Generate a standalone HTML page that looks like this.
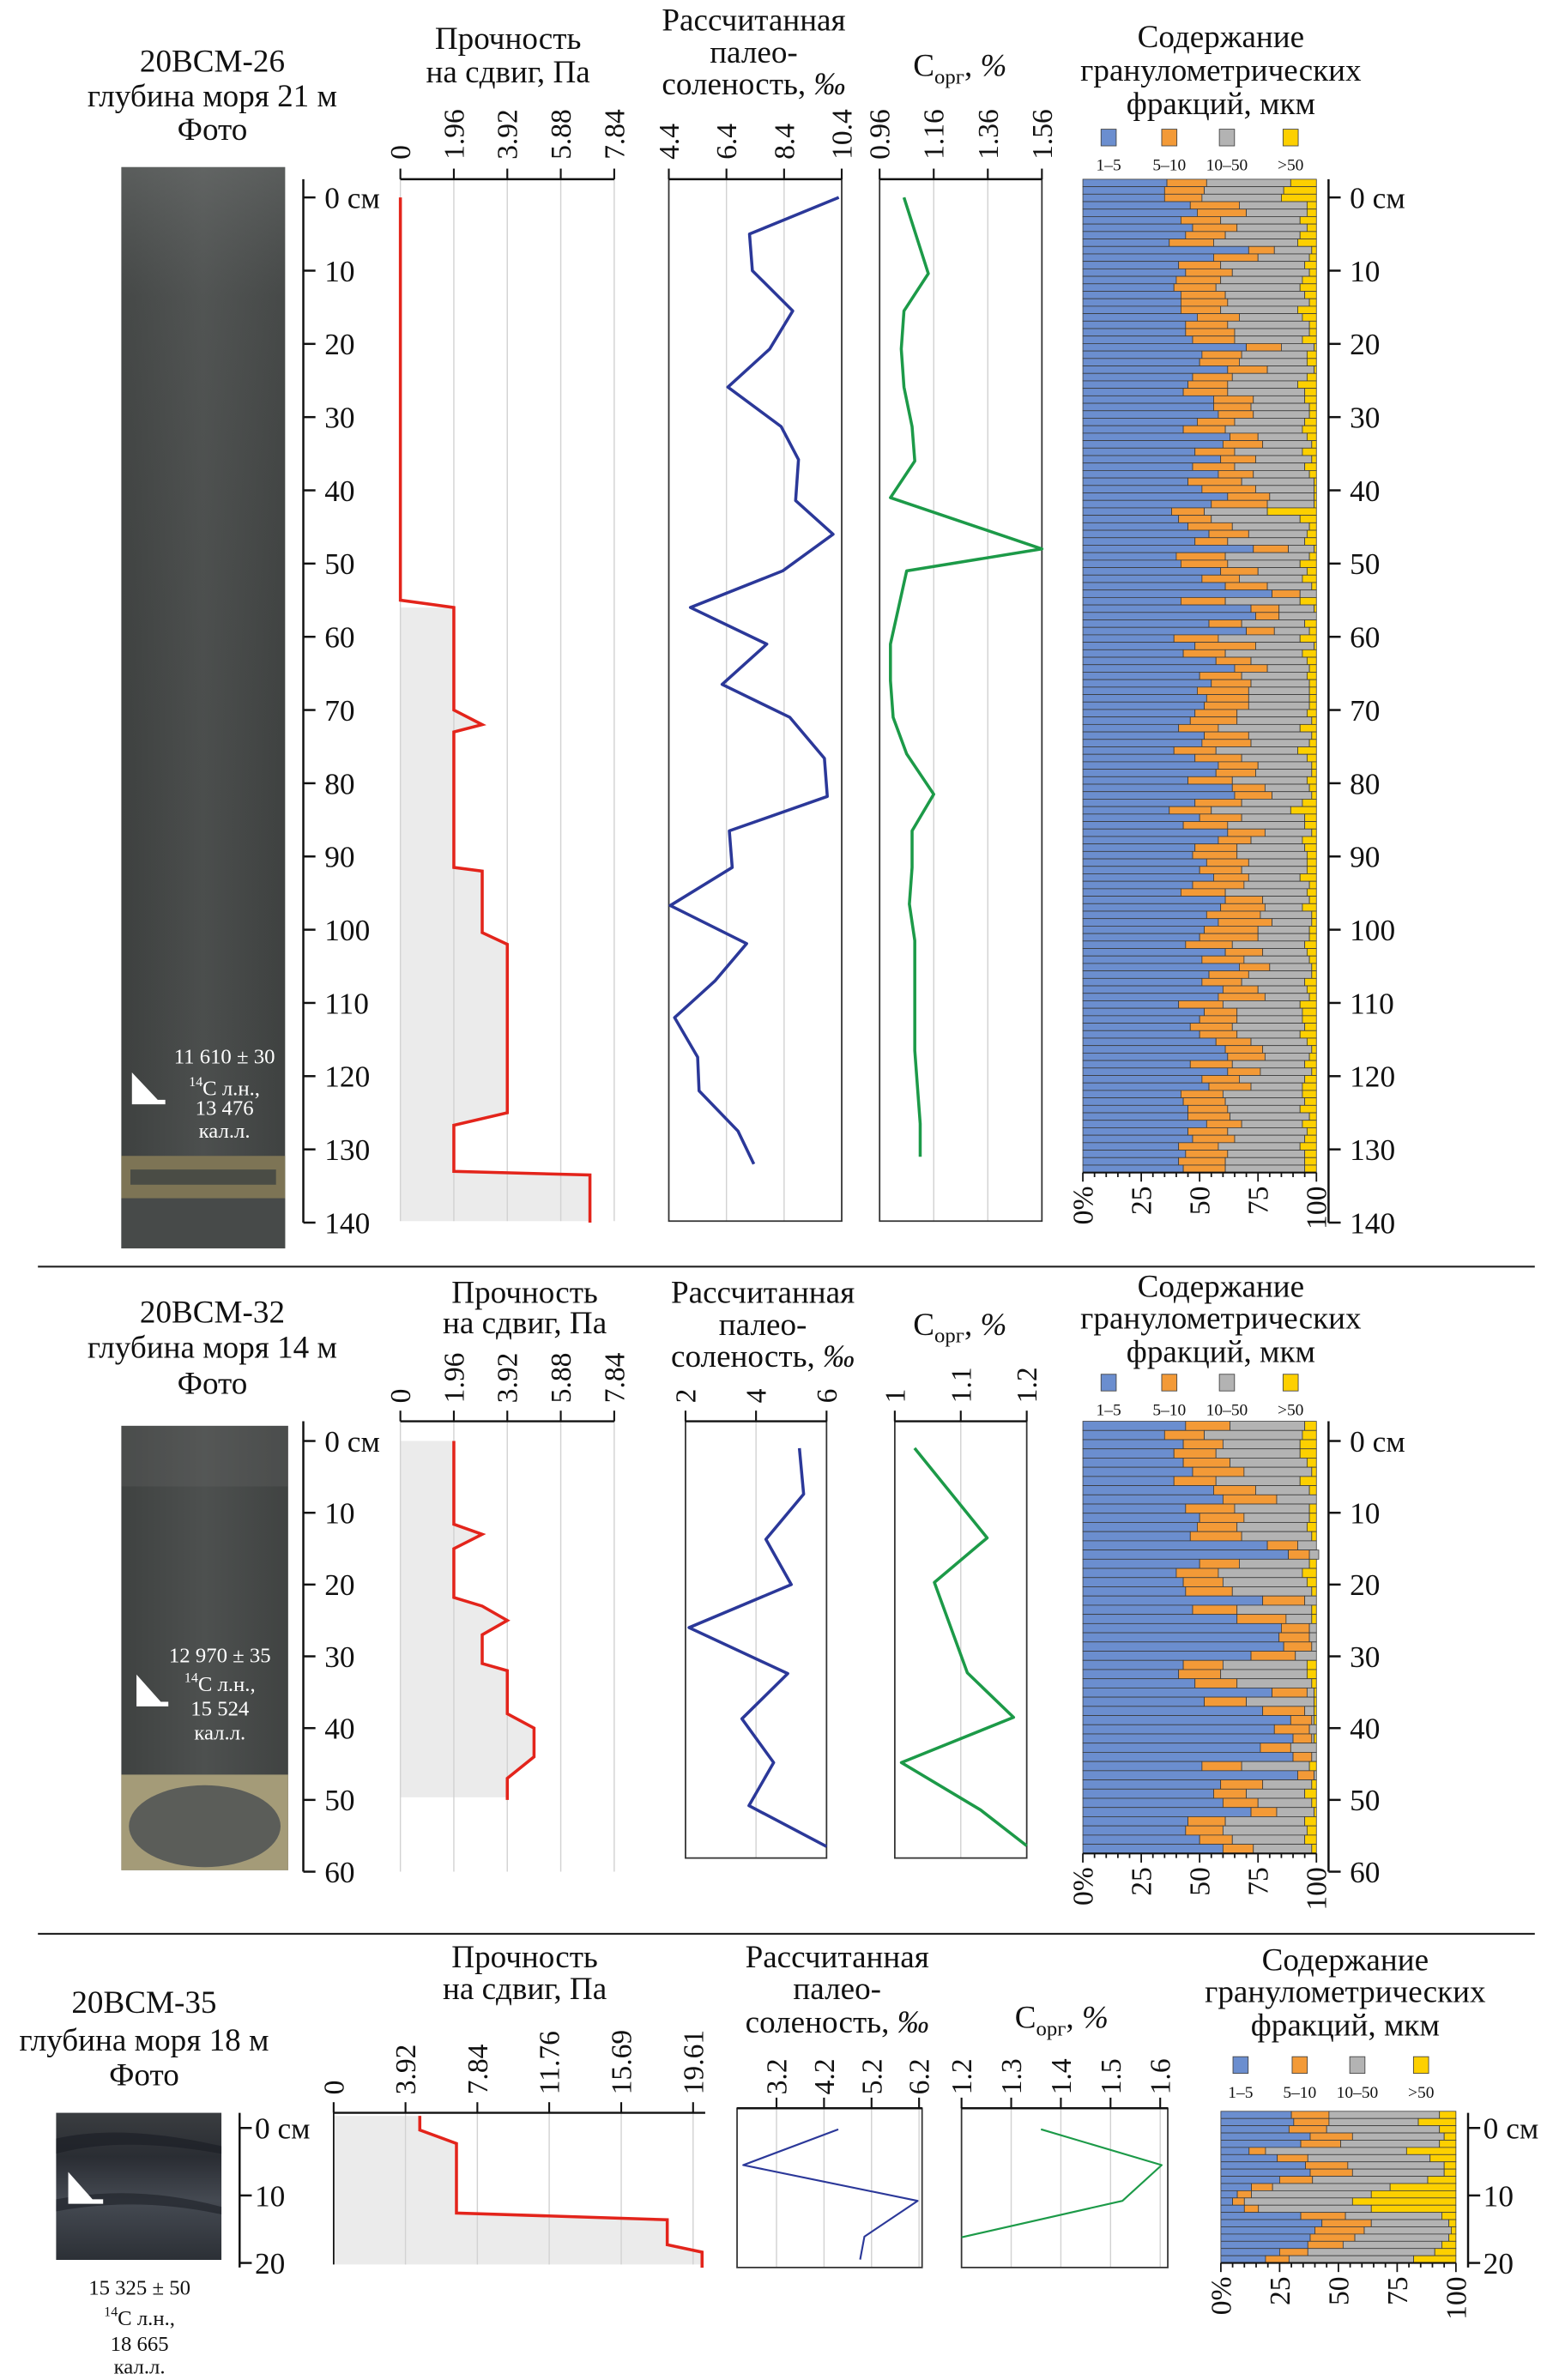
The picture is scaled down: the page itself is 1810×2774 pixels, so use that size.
<!DOCTYPE html>
<html><head><meta charset="utf-8">
<style>
html,body{margin:0;padding:0;background:#fff;}
svg{display:block;}
text{font-family:"Liberation Serif","DejaVu Serif",serif;fill:#111;}
.t{font-size:21px;text-anchor:middle;}
.tk{font-size:19px;}
.dp{font-size:20px;}
.lg{font-size:11px;text-anchor:middle;}
.dt{font-size:14px;text-anchor:middle;}
</style></head>
<body>
<svg id="fig" xmlns="http://www.w3.org/2000/svg" width="1810" height="2774" viewBox="0 0 1024 1569">
<defs>
<linearGradient id="ph1" x1="0" y1="0" x2="1" y2="0">
<stop offset="0" stop-color="#3f4241"/><stop offset="0.5" stop-color="#4d504f"/><stop offset="1" stop-color="#404342"/>
</linearGradient>
<linearGradient id="ph1v" x1="0" y1="0" x2="0" y2="1">
<stop offset="0" stop-color="#7a7d7c" stop-opacity="0.45"/><stop offset="0.12" stop-color="#6a6d6c" stop-opacity="0.15"/><stop offset="1" stop-color="#000" stop-opacity="0"/>
</linearGradient>
<linearGradient id="ph3" x1="0" y1="0" x2="0" y2="1">
<stop offset="0" stop-color="#3a3d40"/><stop offset="0.3" stop-color="#2a2d33"/><stop offset="0.6" stop-color="#454a52"/><stop offset="1" stop-color="#2c3036"/>
</linearGradient>
</defs>
<line x1="25" y1="835" x2="1012" y2="835" stroke="#222" stroke-width="1.2"/>
<line x1="25" y1="1275" x2="1012" y2="1275" stroke="#222" stroke-width="1.2"/>

<g>
<text class="t" x="140" y="47">20BCM-26</text>
<text class="t" x="140" y="70">глубина моря 21 м</text>
<text class="t" x="140" y="92">Фото</text>
</g>
<g>
<rect x="80" y="110" width="108" height="713" fill="url(#ph1)"/>
<rect x="80" y="110" width="108" height="713" fill="url(#ph1v)"/>
<rect x="80" y="762" width="108" height="28" fill="#7d7455"/>
<rect x="86" y="771" width="96" height="10" fill="#4a4c45"/>
<rect x="80" y="790" width="108" height="33" fill="#474a49"/>
<polygon points="87,707 87,728 109,728 109,725 104,725" fill="#fff"/>
<text class="dt" x="148" y="701" style="fill:#fff">11 610 ± 30</text>
<text class="dt" x="148" y="722" style="fill:#fff"><tspan font-size="9" dy="-6">14</tspan><tspan dy="6">С л.н.,</tspan></text>
<text class="dt" x="148" y="735" style="fill:#fff">13 476</text>
<text class="dt" x="148" y="750" style="fill:#fff">кал.л.</text>
</g>
<g>
<text class="t" x="335" y="32">Прочность</text>
<text class="t" x="335" y="54">на сдвиг, Па</text>
</g>
<g>
<text class="t" x="497" y="20">Рассчитанная</text>
<text class="t" x="497" y="41">палео-</text>
<text class="t" x="497" y="62">соленость, <tspan font-style="italic">‰</tspan></text>
</g>
<text class="t" x="633" y="50">С<tspan font-size="14" dy="5">орг</tspan><tspan dy="-5">, </tspan><tspan font-style="italic">%</tspan></text>
<g>
<text class="t" x="805" y="31">Содержание</text>
<text class="t" x="805" y="53">гранулометрических</text>
<text class="t" x="805" y="75">фракций, мкм</text>
</g>

<g>
<text class="t" x="140" y="872">20BCM-32</text>
<text class="t" x="140" y="895">глубина моря 14 м</text>
<text class="t" x="140" y="919">Фото</text>
</g>
<g>
<rect x="80" y="940" width="110" height="293" fill="url(#ph1)"/>
<rect x="80" y="940" width="110" height="40" fill="#6a6d6c" opacity="0.25"/>
<rect x="80" y="1170" width="110" height="63" fill="#a49b78"/>
<ellipse cx="135" cy="1204" rx="50" ry="27" fill="#5b5d59"/>
<polygon points="90,1104 90,1125 111,1125 111,1122 106,1122" fill="#fff"/>
<text class="dt" x="145" y="1096" style="fill:#fff">12 970 ± 35</text>
<text class="dt" x="145" y="1115" style="fill:#fff"><tspan font-size="9" dy="-6">14</tspan><tspan dy="6">С л.н.,</tspan></text>
<text class="dt" x="145" y="1131" style="fill:#fff">15 524</text>
<text class="dt" x="145" y="1147" style="fill:#fff">кал.л.</text>
</g>
<g>
<text class="t" x="346" y="859">Прочность</text>
<text class="t" x="346" y="879">на сдвиг, Па</text>
</g>
<g>
<text class="t" x="503" y="859">Рассчитанная</text>
<text class="t" x="503" y="880">палео-</text>
<text class="t" x="503" y="901">соленость, <tspan font-style="italic">‰</tspan></text>
</g>
<text class="t" x="633" y="880">С<tspan font-size="14" dy="5">орг</tspan><tspan dy="-5">, </tspan><tspan font-style="italic">%</tspan></text>
<g>
<text class="t" x="805" y="855">Содержание</text>
<text class="t" x="805" y="876">гранулометрических</text>
<text class="t" x="805" y="898">фракций, мкм</text>
</g>

<g>
<text class="t" x="95" y="1327">20BCM-35</text>
<text class="t" x="95" y="1352">глубина моря 18 м</text>
<text class="t" x="95" y="1375">Фото</text>
</g>
<g>
<rect x="37" y="1393" width="109" height="97" fill="url(#ph3)"/>
<path d="M37,1410 Q80,1400 146,1415 L146,1420 Q80,1408 37,1420Z" fill="#1d2026" opacity="0.7"/>
<path d="M37,1450 Q90,1440 146,1455 L146,1460 Q90,1448 37,1458Z" fill="#1d2026" opacity="0.6"/>
<polygon points="45,1432 45,1453 68,1453 68,1450 61,1450" fill="#fff"/>
</g>
<g>
<text class="dt" x="92" y="1513">15 325 ± 50</text>
<text class="dt" x="92" y="1533"><tspan font-size="9" dy="-6">14</tspan><tspan dy="6">С л.н.,</tspan></text>
<text class="dt" x="92" y="1550">18 665</text>
<text class="dt" x="92" y="1565">кал.л.</text>
</g>
<g>
<text class="t" x="346" y="1297">Прочность</text>
<text class="t" x="346" y="1318">на сдвиг, Па</text>
</g>
<g>
<text class="t" x="552" y="1297">Рассчитанная</text>
<text class="t" x="552" y="1318">палео-</text>
<text class="t" x="552" y="1340">соленость, <tspan font-style="italic">‰</tspan></text>
</g>
<text class="t" x="700" y="1337">С<tspan font-size="14" dy="5">орг</tspan><tspan dy="-5">, </tspan><tspan font-style="italic">%</tspan></text>
<g>
<text class="t" x="887" y="1299">Содержание</text>
<text class="t" x="887" y="1320">гранулометрических</text>
<text class="t" x="887" y="1342">фракций, мкм</text>
</g>
<g id="marks"></g>
</svg>
<script>
// ---------- DATA ----------
const strengthDepth26 = [0,55,56,70,72,73,91.5,92,100.4,102,125,126.7,133,133.5,140];
const strengthValue26 = [0,0,1.96,1.96,3.0,1.96,1.96,3.0,3.0,3.92,3.92,1.96,1.96,6.95,6.95];
const salinityDepth26 = [0,5,10,15.5,20.7,25.9,31.3,35.8,41.4,46,51,56,61,66.5,71,76.6,81.8,86.5,91.5,96.7,101.9,107,112,117.4,122,127.5,132];
const salinityValue26 = [10.3,7.2,7.3,8.7,7.9,6.45,8.3,8.9,8.8,10.1,8.35,5.15,7.8,6.25,8.6,9.8,9.9,6.5,6.6,4.45,7.1,6.0,4.6,5.4,5.45,6.8,7.35];
const corgDepth26 = [0,10.4,15.5,20.7,25.9,31.3,36,41,48,51,56,61,66,71,76,81.5,86.5,91.5,96.5,101.5,106.5,111.5,116.5,121.5,126.5,131];
const corgValue26 = [1.05,1.14,1.05,1.04,1.05,1.08,1.09,1.00,1.56,1.06,1.03,1.00,1.00,1.01,1.06,1.16,1.08,1.08,1.07,1.09,1.09,1.09,1.09,1.10,1.11,1.11];
const clay26 = [36,35,35,46,49,42,47,44,37,71,56,41,44,40,39,42,42,42,49,44,44,47,70,51,50,62,47,45,43,56,56,58,49,43,63,60,48,59,47,58,45,51,62,55,38,41,45,54,48,73,40,42,59,51,61,81,42,72,74,54,70,39,48,43,57,65,50,55,49,53,
52,48,46,41,52,51,39,48,58,57,45,64,65,48,37,50,43,62,58,48,47,53,50,56,47,42,61,59,53,58,52,50,44,61,51,67,54,51,60,58,41,52,50,46,50,57,61,62,46,62,51,54,42,43,45,45,53,45,47,41,44,41,43];
const fine26 = [17,17,16,21,21,17,19,17,19,11,19,18,20,19,18,19,20,17,18,18,21,18,15,17,17,17,17,17,19,17,16,15,16,18,12,17,17,15,18,15,23,23,18,24,14,14,19,17,14,15,21,20,16,16,18,12,19,12,10,14,12,19,26,18,15,14,18,17,22,18,
19,18,20,17,19,21,18,20,17,17,19,14,16,20,18,18,19,16,14,18,19,18,18,15,22,19,16,19,23,23,23,25,20,16,18,13,17,17,15,20,19,14,16,18,16,15,16,16,18,14,16,18,18,18,17,18,15,17,18,17,18,20,18];
const medium26 = [36,34,34,29,26,34,30,32,36,16,22,36,33,35,36,34,35,33,27,35,32,29,14,28,29,20,32,30,33,22,25,24,30,33,21,21,29,24,30,24,31,25,19,20,27,38,33,25,33,11,36,31,21,27,19,7,32,15,16,27,15,35,25,33,24,18,28,25,26,26,
26,30,32,35,27,25,35,28,23,24,32,19,17,26,34,27,33,20,22,29,30,25,28,22,28,35,20,16,22,17,22,22,31,19,28,18,27,27,21,19,33,28,28,31,27,24,21,19,31,22,28,22,34,34,31,34,26,34,30,35,33,34,34];
const strengthDepth32 = [0,11.6,13,15,21.8,23,25,27,31,32,38,40,44,47,50];
const strengthValue32 = [1.96,1.96,3.0,1.96,1.96,3.0,3.92,3.0,3.0,3.92,3.92,4.9,4.9,3.92,3.92];
const salinityDepth32 = [1,7.4,13.7,20,26,32.4,38.7,44.8,50.8,56.5];
const salinityValue32 = [5.23,5.35,4.28,5.0,2.1,4.9,3.6,4.5,3.8,6.0];
const corgDepth32 = [1,13.5,19.7,32.3,38.5,44.8,51.4,56.4];
const corgValue32 = [1.03,1.14,1.06,1.11,1.18,1.01,1.13,1.2];
const clay32 = [44,35,43,39,43,47,39,56,60,44,50,49,46,79,88,50,40,43,44,77,47,66,85,84,86,72,43,41,48,81,52,77,89,82,90,76,90,51,92,59,56,60,72,45,44,50,60];
const fine32 = [19,17,17,18,20,22,18,18,23,21,19,17,22,13,9,17,18,17,20,18,19,21,12,13,12,19,17,18,18,15,18,18,9,15,8,13,8,17,7,18,14,15,11,16,16,14,13];
const medium32 = [32,42,33,36,33,29,36,23,17,32,28,30,30,8,4,30,36,36,34,5,32,11,3,3,2,9,36,37,32,3,29,4,1,3,1,11,2,29,1,21,25,23,16,34,36,31,25];
const strengthDepth35 = [-1.8,0.3,2.3,12.6,13.6,17.3,18.4,20.7];
const strengthValue35 = [4.7,4.7,6.7,6.7,18.2,18.2,20.1,20.1];
const salinityDepth35 = [0.2,5.5,10.8,16.1,19.5];
const salinityValue35 = [4.5,2.5,6.17,5.05,4.96];
const corgDepth35 = [0.2,5.5,10.8,16.2];
const corgValue35 = [1.36,1.603,1.524,1.2];
const clay35 = [30,31,29,38,34,12,24,36,38,25,13,7,5,10,34,43,40,38,37,25,19];
const fine35 = [16,15,16,18,17,7,13,18,18,14,9,6,5,6,19,21,21,19,15,12,10];
const medium35 = [47,38,48,39,42,60,52,41,39,49,50,51,46,48,41,33,37,40,42,54,53];
const strengthTicks = ["0","1.96","3.92","5.88","7.84"];
const strengthTicks35 = ["0","3.92","7.84","11.76","15.69","19.61"];
const salinityTicks26 = ["4.4","6.4","8.4","10.4"];
const salinityTicks32 = ["2","4","6"];
const salinityTicks35 = ["3.2","4.2","5.2","6.2"];
const corgTicks26 = ["0.96","1.16","1.36","1.56"];
const corgTicks32 = ["1","1.1","1.2"];
const corgTicks35 = ["1.2","1.3","1.4","1.5","1.6"];
const percentTicks = ["0%","25","50","75","100"];
const legendLabels = ["1–5","5–10","10–50",">50"];

// ---------- DRAWING ----------
const NS = "http://www.w3.org/2000/svg";
const root = document.getElementById("marks");
function mk(tag, attrs, parent){
  const e = document.createElementNS(NS, tag);
  for (const k in attrs) e.setAttribute(k, attrs[k]);
  (parent||root).appendChild(e);
  return e;
}
function lin(d0,d1,r0,r1){ return v => r0 + (v-d0)/(d1-d0)*(r1-r0); }
const COLORS = ["#6b8ecf","#f39a37","#b3b3b3","#fdd000"];

function depthAxis(x, yScale, ticks, top, bottom, labelX, name){
  const g = mk("g", {});
  
  
  mk("line", {x1:x, y1:top, x2:x, y2:bottom, stroke:"#111", "stroke-width":1.4}, g);
  ticks.forEach((d,i) => {
    const y = yScale(d);
    mk("line", {x1:x, y1:y, x2:x+8, y2:y, stroke:"#111", "stroke-width":1.4}, g);
    const t = mk("text", {x:labelX, y:y+7, class:"dp"}, g);
    t.textContent = i===0 ? d+" см" : String(d);
  });
}

function strengthPlot(depths, vals, xs, ys, fillFrom, fillTo, x0, name){
  let d = "M"+xs(vals[0])+","+ys(depths[0]);
  for (let i=1;i<depths.length;i++) d += " L"+xs(vals[i])+","+ys(depths[i]);
  let f = "M"+x0+","+fillFrom;
  for (let i=0;i<depths.length;i++){
    const y = Math.max(fillFrom, Math.min(fillTo, ys(depths[i])));
    f += " L"+xs(vals[i])+","+y;
  }
  f += " L"+x0+","+fillTo+" Z";
  const fa = mk("path", {d:f, fill:"#ebebeb", stroke:"none"});
  
  
  root.insertBefore(fa, root.firstChild);
  const p = mk("path", {d:d, fill:"none", stroke:"#e3241b", "stroke-width":2});
  
  
}

function linePlot(depths, vals, xs, ys, color, w, name){
  const pts = depths.map((dd,i)=> xs(vals[i])+","+ys(dd)).join(" ");
  const p = mk("polyline", {points:pts, fill:"none", stroke:color, "stroke-width":w, "stroke-linejoin":"round"});
  
  
}

function grainPlot(c, f, m, x0, x1, y0, y1, name){
  const xs = lin(0,100,x0,x1);
  const n = c.length, h = (y1-y0)/n;
  const g = mk("g", {});
  
  
  for (let i=0;i<n;i++){
    const vals = [c[i], f[i], m[i], Math.max(0, 100-c[i]-f[i]-m[i])];
    let acc = 0;
    vals.forEach((v,k) => {
      const r = mk("rect", {x:xs(acc), y:y0+i*h, width:Math.max(0, xs(acc+v)-xs(acc)), height:h, fill:COLORS[k], stroke:"#3a3a3a", "stroke-width":0.45}, g);
      
      
      acc += v;
    });
  }
  mk("line", {x1:x0, y1:y1, x2:x1, y2:y1, stroke:"#111", "stroke-width":1.2}, g);
  for (let k=0;k<=20;k++){
    const x = xs(k*5);
    mk("line", {x1:x, y1:y1, x2:x, y2:y1+(k%5===0?6:3), stroke:"#111", "stroke-width":1}, g);
  }
  percentTicks.forEach((s,i) => {
    const t = mk("text", {x:0, y:0, class:"tk", "text-anchor":"end", transform:"translate("+(xs(i*25)+6.5)+","+(y1+9)+") rotate(-90)"}, g);
    t.textContent = s;
  });
}

function legend(y, xs, name){
  const g = mk("g", {});
  
  
  xs.forEach((x,i) => {
    const e = mk("rect", {x:x-5, y:y, width:10, height:11, fill:COLORS[i], stroke:"#444", "stroke-width":0.5}, g);
    
    
    const t = mk("text", {x:x, y:y+27, class:"lg"}, g);
    t.textContent = legendLabels[i];
  });
}

function axisTicksLabels(tickLabels, scale, yTop, labelY, name, x0, x1, yBot, boxed, gridTo){
  const g = mk("g", {});
  
  
  tickLabels.forEach((s) => {
    const x = scale(parseFloat(s));
    mk("line", {x1:x, y1:yTop, x2:x, y2:gridTo, stroke:"#d2d2d2", "stroke-width":0.8}, g);
  });
  if (boxed) mk("rect", {x:x0, y:yTop, width:x1-x0, height:yBot-yTop, fill:"none", stroke:"#333", "stroke-width":1}, g);
  mk("line", {x1:x0, y1:yTop, x2:x1, y2:yTop, stroke:"#111", "stroke-width":1.4}, g);
  tickLabels.forEach((s) => {
    const x = scale(parseFloat(s));
    mk("line", {x1:x, y1:yTop, x2:x, y2:yTop-7, stroke:"#111", "stroke-width":1.2}, g);
    const t = mk("text", {x:0, y:0, class:"tk", "text-anchor":"start", transform:"translate("+(x+6.5)+","+labelY+") rotate(-90)"}, g);
    t.textContent = s;
  });
}

// ===== Panel 1 =====
const y26 = lin(0,140,130,806);
const sx26 = lin(0,7.84,264,405);
axisTicksLabels(strengthTicks, sx26, 118, 105, "strength-axis-26", 264, 405, 805, false, 805);
strengthPlot(strengthDepth26, strengthValue26, sx26, y26, y26(56), 805, 264, "strength-26");
const salx26 = lin(4.4,10.4,441,555);
axisTicksLabels(salinityTicks26, salx26, 118, 105, "salinity-axis-26", 441, 555, 805, true, 805);
linePlot(salinityDepth26, salinityValue26, salx26, y26, "#2b3899", 2, "salinity-line-26");
const cx26 = lin(0.96,1.56,580,687);
axisTicksLabels(corgTicks26, cx26, 118, 105, "corg-axis-26", 580, 687, 805, true, 805);
linePlot(corgDepth26, corgValue26, cx26, y26, "#1c9a48", 2, "corg-line-26");
depthAxis(200, y26, [0,10,20,30,40,50,60,70,80,90,100,110,120,130,140], 118, 806, 214, "depth-axis-left-26");
grainPlot(clay26, fine26, medium26, 714, 868, 118, 773, "grain-chart-26");
depthAxis(876, y26, [0,10,20,30,40,50,60,70,80,90,100,110,120,130,140], 118, 806, 890, "depth-axis-right-26");
legend(85, [731,771,809,851], "grain-legend-26");

// ===== Panel 2 =====
const y32 = lin(0,60,950,1234);
const sx32 = lin(0,7.84,264,405);
axisTicksLabels(strengthTicks, sx32, 937, 925, "strength-axis-32", 264, 405, 1225, false, 1234);
strengthPlot(strengthDepth32, strengthValue32, sx32, y32, 950, 1185, 264, "strength-32");
const salx32 = lin(2,6,452,545);
axisTicksLabels(salinityTicks32, salx32, 937, 925, "salinity-axis-32", 452, 545, 1225, true, 1225);
linePlot(salinityDepth32, salinityValue32, salx32, y32, "#2b3899", 2, "salinity-line-32");
const cx32 = lin(1,1.2,590,677);
axisTicksLabels(corgTicks32, cx32, 937, 925, "corg-axis-32", 590, 677, 1225, true, 1225);
linePlot(corgDepth32, corgValue32, cx32, y32, "#1c9a48", 2, "corg-line-32");
depthAxis(200, y32, [0,10,20,30,40,50,60], 937, 1234, 214, "depth-axis-left-32");
grainPlot(clay32, fine32, medium32, 714, 868, 937, 1222, "grain-chart-32");
depthAxis(876, y32, [0,10,20,30,40,50,60], 937, 1234, 890, "depth-axis-right-32");
legend(906, [731,771,809,851], "grain-legend-32");

// ===== Panel 3 =====
const y35 = lin(0,20,1403,1492);
const sx35 = lin(0,19.61,220,457);
axisTicksLabels(strengthTicks35, sx35, 1393, 1381, "strength-axis-35", 220, 465, 1493, false, 1493);
const leftEdge35 = mk("line", {x1:220, y1:1393, x2:220, y2:1493, stroke:"#111", "stroke-width":1});


strengthPlot(strengthDepth35, strengthValue35, sx35, y35, 1395, 1493, 220, "strength-35");
const salx35 = lin(3.2,6.2,512,606);
axisTicksLabels(salinityTicks35, salx35, 1390, 1381, "salinity-axis-35", 486, 608, 1495, true, 1495);
linePlot(salinityDepth35, salinityValue35, salx35, y35, "#2b3899", 1.2, "salinity-line-35");
const cx35 = lin(1.2,1.6,634,765);
axisTicksLabels(corgTicks35, cx35, 1390, 1381, "corg-axis-35", 634, 770, 1495, true, 1495);
linePlot(corgDepth35, corgValue35, cx35, y35, "#1c9a48", 1.2, "corg-line-35");
depthAxis(158, y35, [0,10,20], 1393, 1495, 168, "depth-axis-left-35");
grainPlot(clay35, fine35, medium35, 805, 960, 1392, 1492, "grain-chart-35");
depthAxis(968, y35, [0,10,20], 1393, 1495, 978, "depth-axis-right-35");
legend(1356, [818,857,895,937], "grain-legend-35");
</script>
</body></html>
